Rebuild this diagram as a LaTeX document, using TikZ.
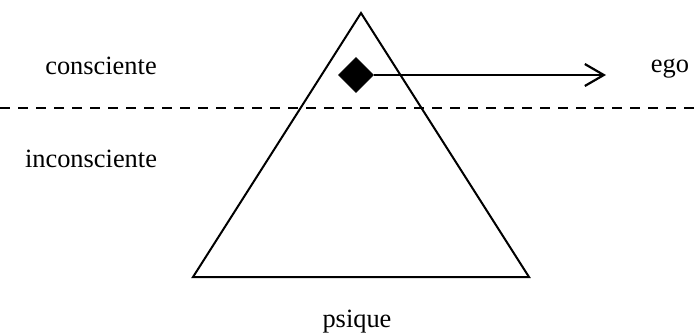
\documentclass[tikz,border=0pt]{standalone}
\usepackage{fontspec}
\setmainfont{Liberation Serif}
\usetikzlibrary{positioning,arrows.meta,shapes.geometric}

\begin{document}
\begin{tikzpicture}[
  x=0.5pt, y=-0.5pt,
  every node/.style={font=\fontsize{13.2}{15}\selectfont, inner sep=0pt},
  label/.style={anchor=base},
  ego mark/.style={draw, diamond, fill=black, minimum size=17.5pt, inner sep=0pt},
  arr/.style={-{Straight Barb[length=9.5pt,width=11pt,line width=1.1pt]}, line width=1.1pt},
  psyche/.style={line width=1pt, line join=miter},
  border/.style={dashed, line width=0.8pt, dash pattern=on 5pt off 4pt}
]
  \useasboundingbox (0,0) rectangle (697,334);

  % triangle of the psyche
  \coordinate (apex) at (361,13);
  \coordinate (left) at (193,277);
  \coordinate (right) at (529,277);
  \draw[psyche] (apex) -- (left) -- (right) -- cycle;

  % threshold of consciousness
  \coordinate (lineA) at (0,108);
  \coordinate (lineB) at (697,108);
  \draw[border] (lineA) -- (lineB);

  % ego
  \node[ego mark] (ego) at (356,75) {};
  \coordinate (egoend) at (606,75);
  \draw[arr] (ego.east) -- (egoend);

  \node[label] (cons) at (101,74) {consciente};
  \node[label] (egotext) at (670,72) {ego};
  \node[label] (incons) at (91,167) {inconsciente};
  \node[label] (psique) at (357,327) {psique};
\end{tikzpicture}
\end{document}
